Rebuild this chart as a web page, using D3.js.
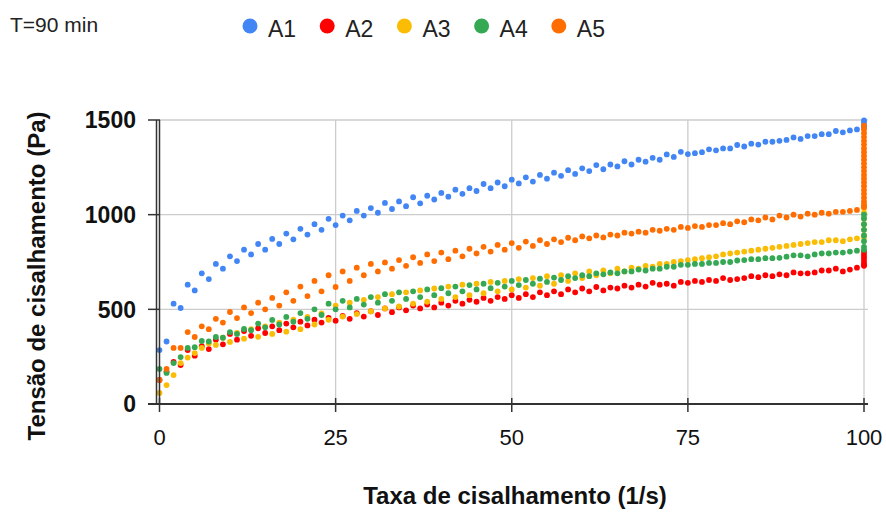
<!DOCTYPE html>
<html>
<head>
<meta charset="utf-8">
<script src="https://cdn.jsdelivr.net/npm/d3@7"></script>
<style>
  body { margin: 0; background: #fff; }
  svg { font-family: "Liberation Sans", Arial, sans-serif; }
</style>
</head>
<body>
<svg id="chart" width="886" height="516"></svg>
<script>
// shear rates of the two sweeps (1/s)
const shearUp = [0, 2, 4, 6, 8, 10, 12, 14, 16, 18, 20, 22, 24, 26, 28, 30, 32, 34, 36, 38, 40,
  42, 44, 46, 48, 50, 52, 54, 56, 58, 60, 62, 64, 66, 68, 70, 72, 74, 76, 78, 80,
  82, 84, 86, 88, 90, 92, 94, 96, 98, 100];
const shearDown = [1, 3, 5, 7, 9, 11, 13, 15, 17, 19, 21, 23, 25, 27, 29, 31, 33, 35, 37, 39,
  41, 43, 45, 47, 49, 51, 53, 55, 57, 59, 61, 63, 65, 67, 69, 71, 73, 75, 77, 79,
  81, 83, 85, 87, 89, 91, 93, 95, 97, 99];
const holdRate = 100;

const names = ["A1", "A2", "A3", "A4", "A5"];
const colors = ["#4285f4", "#ff0000", "#fbbc04", "#34a853", "#ff6d01"];

// shear stress (Pa)
const a1Up = [285, 530, 630, 690, 740, 780, 815, 845, 872, 900, 925, 950, 978, 995, 1020, 1035, 1062, 1070, 1092, 1100, 1115,
  1132, 1140, 1162, 1170, 1185, 1197, 1210, 1222, 1235, 1245, 1262, 1265, 1282, 1290, 1300, 1318, 1332, 1325, 1345, 1350,
  1368, 1375, 1385, 1390, 1408, 1415, 1425, 1442, 1445, 1460];
const a1Down = [330, 507, 600, 660, 715, 755, 790, 815, 845, 870, 895, 920, 945, 970, 995, 1010, 1030, 1045, 1060, 1080,
  1095, 1110, 1125, 1140, 1150, 1165, 1175, 1190, 1205, 1215, 1230, 1240, 1255, 1265, 1280, 1290, 1305, 1320, 1330, 1340,
  1350, 1360, 1370, 1385, 1395, 1400, 1415, 1425, 1435, 1450];
const a1Hold = [1470, 1485, 1498];

const a2Up = [127, 222, 285, 305, 340, 370, 385, 400, 410, 425, 435, 445, 455, 465, 480, 490, 505, 510, 520, 525, 535,
  545, 550, 560, 565, 575, 580, 590, 595, 605, 610, 618, 615, 625, 630, 640, 635, 645, 650, 655, 665,
  660, 675, 680, 685, 695, 690, 705, 715, 710, 735];
const a2Down = [170, 206, 255, 290, 315, 340, 360, 375, 390, 405, 415, 430, 440, 450, 462, 470, 485, 495, 505, 510,
  520, 530, 540, 545, 555, 560, 565, 575, 580, 590, 595, 600, 610, 615, 620, 630, 625, 640, 645, 650,
  655, 665, 670, 675, 680, 690, 695, 705, 700, 720];
const a2Hold = [730, 745, 760, 775, 790, 805];

const a3Up = [58, 153, 245, 296, 312, 328, 345, 355, 370, 382, 395, 420, 445, 462, 475, 490, 505, 515, 530, 540, 555,
  565, 575, 585, 595, 605, 615, 625, 635, 650, 665, 680, 690, 700, 715, 725, 740, 755, 765, 775, 790,
  800, 810, 820, 830, 840, 850, 855, 865, 870, 880];
const a3Down = [100, 216, 269, 320, 350, 375, 395, 410, 430, 445, 460, 478, 520, 535, 550, 565, 580, 590, 600, 610,
  620, 630, 635, 645, 650, 660, 665, 675, 680, 690, 700, 705, 715, 720, 730, 740, 750, 760, 770, 780,
  795, 805, 815, 825, 835, 845, 855, 865, 860, 875];
const a3Hold = [890, 920, 950, 980, 1010, 1035, 1055];

const a4Up = [185, 216, 296, 333, 354, 380, 396, 425, 444, 460, 480, 500, 530, 545, 555, 565, 580, 590, 595, 605, 612,
  620, 628, 635, 640, 650, 655, 662, 668, 675, 680, 690, 695, 700, 710, 715, 725, 735, 740, 745, 750,
  758, 765, 770, 772, 785, 780, 795, 800, 805, 815];
const a4Down = [164, 248, 300, 330, 350, 370, 390, 405, 420, 435, 450, 470, 500, 510, 525, 535, 545, 555, 565, 575,
  585, 595, 605, 612, 620, 628, 635, 645, 655, 665, 675, 685, 690, 700, 705, 715, 725, 735, 740, 745,
  750, 760, 765, 770, 778, 785, 790, 795, 800, 810];
const a4Hold = [830, 860, 890, 920, 950, 980, 1000];

const a5Up = [127, 296, 380, 410, 450, 486, 510, 535, 560, 590, 620, 650, 680, 700, 720, 740, 748, 760, 775, 790, 800,
  810, 820, 830, 840, 850, 858, 865, 870, 878, 885, 890, 895, 905, 910, 920, 925, 935, 940, 945, 955,
  965, 975, 985, 995, 1000, 1005, 1010, 1015, 1020, 1040];
const a5Down = [185, 296, 354, 395, 430, 454, 480, 500, 520, 545, 570, 595, 618, 650, 680, 700, 715, 730, 745, 755,
  765, 780, 795, 805, 815, 825, 835, 845, 855, 865, 875, 880, 890, 900, 905, 915, 920, 930, 935, 945,
  950, 960, 970, 975, 985, 990, 1000, 1005, 1015, 1025];
const a5Hold = [1050, 1070, 1090, 1110, 1130, 1150, 1170, 1190, 1210, 1230, 1250, 1270, 1290, 1310, 1330,
  1350, 1370, 1390, 1410, 1430, 1450, 1470];

const xTicks = [0, 25, 50, 75, 100];
const yTicks = [0, 500, 1000, 1500];

const series = [
  { name: names[0], color: colors[0], up: a1Up, down: a1Down, hold: a1Hold },
  { name: names[1], color: colors[1], up: a2Up, down: a2Down, hold: a2Hold },
  { name: names[2], color: colors[2], up: a3Up, down: a3Down, hold: a3Hold },
  { name: names[3], color: colors[3], up: a4Up, down: a4Down, hold: a4Hold },
  { name: names[4], color: colors[4], up: a5Up, down: a5Down, hold: a5Hold },
];

const svg = d3.select("#chart");
const x = d3.scaleLinear().domain([0, 100]).range([159.5, 864]);
const y = d3.scaleLinear().domain([0, 1500]).range([404, 120]);

// gridlines
svg.append("g")
  .selectAll("line")
  .data(yTicks.filter((d) => d > 0))
  .join("line")
  .attr("x1", x(0)).attr("x2", 868)
  .attr("y1", (d) => y(d)).attr("y2", (d) => y(d))
  .attr("stroke", "#cccccc").attr("stroke-width", 1.3);
svg.append("g")
  .selectAll("line")
  .data(xTicks.filter((d) => d > 0))
  .join("line")
  .attr("x1", (d) => x(d)).attr("x2", (d) => x(d))
  .attr("y1", y(1500)).attr("y2", y(0))
  .attr("stroke", "#cccccc").attr("stroke-width", 1.3);

// points
series.forEach((s) => {
  const pts = [
    ...s.up.map((v, i) => [shearUp[i], v]),
    ...s.down.map((v, i) => [shearDown[i], v]),
    ...s.hold.map((v) => [holdRate, v]),
  ];
  svg.append("g")
    .selectAll("circle")
    .data(pts)
    .join("circle")
    .attr("cx", (d) => x(d[0]))
    .attr("cy", (d) => y(d[1]))
    .attr("r", 2.9)
    .attr("fill", s.color);
});

// axes
const axisColor = "#333333";
svg.append("line")
  .attr("x1", 148).attr("x2", 868).attr("y1", y(0)).attr("y2", y(0))
  .attr("stroke", axisColor).attr("stroke-width", 2);
[156.5, 159.5].forEach((xx) => {
  svg.append("line")
    .attr("x1", xx).attr("x2", xx).attr("y1", y(1500)).attr("y2", y(0) + 1)
    .attr("stroke", axisColor).attr("stroke-width", 1.5);
});
svg.append("g")
  .selectAll("line")
  .data(yTicks)
  .join("line")
  .attr("x1", 148).attr("x2", 160)
  .attr("y1", (d) => y(d)).attr("y2", (d) => y(d))
  .attr("stroke", axisColor).attr("stroke-width", 1.5);
svg.append("g")
  .selectAll("line")
  .data(xTicks)
  .join("line")
  .attr("x1", (d) => x(d)).attr("x2", (d) => x(d))
  .attr("y1", y(0) - 6).attr("y2", y(0) + 8)
  .attr("stroke", axisColor).attr("stroke-width", 1.5);

// tick labels
svg.append("g")
  .selectAll("text")
  .data(yTicks)
  .join("text")
  .attr("x", 136)
  .attr("y", (d) => y(d))
  .attr("dy", "0.36em")
  .attr("text-anchor", "end")
  .attr("font-size", 23)
  .attr("font-weight", "bold")
  .attr("fill", "#111")
  .text((d) => d);
svg.append("g")
  .selectAll("text")
  .data(xTicks)
  .join("text")
  .attr("x", (d) => x(d))
  .attr("y", 445)
  .attr("text-anchor", "middle")
  .attr("font-size", 22)
  .attr("fill", "#111")
  .text((d) => d);

// axis titles
svg.append("text")
  .attr("x", 515).attr("y", 504)
  .attr("text-anchor", "middle")
  .attr("font-size", 24).attr("font-weight", "bold").attr("fill", "#111")
  .text("Taxa de cisalhamento (1/s)");
svg.append("text")
  .attr("transform", "translate(45,276) rotate(-90)")
  .attr("text-anchor", "middle")
  .attr("font-size", 24).attr("font-weight", "bold").attr("fill", "#111")
  .text("Tensão de cisalhamento (Pa)");

// subtitle + legend
svg.append("text")
  .attr("x", 10).attr("y", 32)
  .attr("font-size", 21).attr("fill", "#222")
  .text("T=90 min");
const legend = svg.append("g")
  .selectAll("g")
  .data(series)
  .join("g")
  .attr("transform", (d, i) => `translate(${250 + i * 77.2},26)`);
legend.append("circle").attr("r", 7.5).attr("fill", (d) => d.color);
legend.append("text")
  .attr("x", 18).attr("y", 11)
  .attr("font-size", 23).attr("fill", "#222")
  .text((d) => d.name);
</script>
</body>
</html>
